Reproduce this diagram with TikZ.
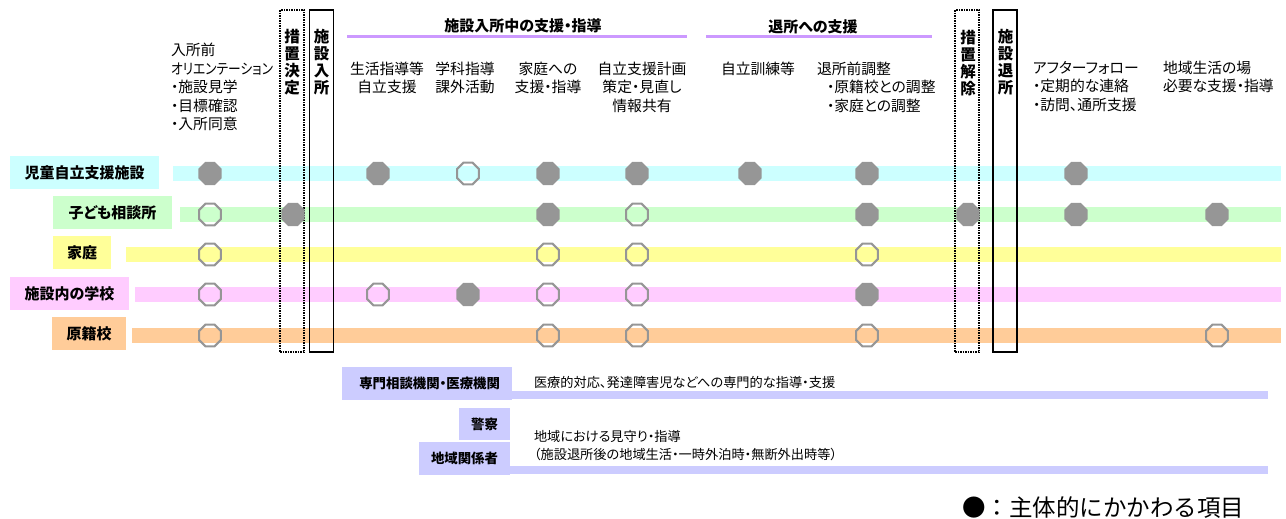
\documentclass[tikz,border=0pt]{standalone}
\usepackage{fontspec}
\setmainfont{Noto Sans CJK JP}[RawFeature=+palt]
\newfontfamily\jpfull{Noto Sans CJK JP}
\usetikzlibrary{shapes.geometric}
\definecolor{cA}{HTML}{CCFFFF}
\definecolor{cB}{HTML}{CCFFCC}
\definecolor{cC}{HTML}{FFFF99}
\definecolor{cD}{HTML}{FFCCFF}
\definecolor{cE}{HTML}{FFCC99}
\definecolor{lav}{HTML}{CCCCFF}
\definecolor{hl}{HTML}{CC99FF}
\definecolor{dgray}{HTML}{969696}
\begin{document}
\begin{tikzpicture}[x=1pt,y=-1pt,
  every node/.style={inner sep=0pt, outer sep=0pt},
  rowlabel/.style={fill=#1, minimum height=33pt, font=\fontsize{15}{17}\selectfont\bfseries},
  on/.style={regular polygon, regular polygon sides=8, minimum size=25pt, fill=dgray},
  off/.style={regular polygon, regular polygon sides=8, minimum size=23.5pt, draw=dgray, line width=2pt},
  txt/.style={font=\fontsize{14.8}{18.5}\selectfont},
  vtext/.style={font=\fontsize{15.5}{17}\selectfont\bfseries, align=center},
  vbox/.style={minimum width=24pt, minimum height=342pt, line width=1.5pt},
  hline/.style={draw=hl, line width=3pt},
  title/.style={font=\fontsize{15}{17}\selectfont\bfseries},
  orglabel/.style={fill=lav, align=right, inner xsep=12pt, font=\fontsize{13.4}{16}\selectfont\bfseries},
  btxt/.style={font=\fontsize{13.2}{18}\selectfont, align=left, anchor=west}
]
\useasboundingbox (0,0) rectangle (1286,519);

% bands
\fill[cA] (173,166) rectangle (1281,181);
\fill[cB] (180,207) rectangle (1281,222);
\fill[cC] (126,247) rectangle (1281,262);
\fill[cD] (135,287) rectangle (1281,302);
\fill[cE] (132,328) rectangle (1281,343);

% row labels
\node[rowlabel=cA, minimum width=149pt] (r1) at (84.5,172.5) {児童自立支援施設};
\node[rowlabel=cB, minimum width=119pt] (r2) at (112.5,212.5) {子ども相談所};
\node[rowlabel=cC, minimum width=58pt] (r3) at (82,252.5) {家庭};
\node[rowlabel=cD, minimum width=119pt] (r4) at (69.5,293.5) {施設内の学校};
\node[rowlabel=cE, minimum width=74pt] (r5) at (89,333.5) {原籍校};

% vertical boxes
\node[vbox, draw, densely dotted] (k1) at (292,181) {};
\node[vbox, draw] (k2) at (321.5,181) {};
\node[vbox, draw, densely dotted] (k3) at (967,181) {};
\node[vbox, draw] (k4) at (1005,181) {};
\node[vtext] (k1t) at (292,62) {措\\置\\決\\定};
\node[vtext] (k2t) at (321.5,62) {施\\設\\入\\所};
\node[vtext] (k3t) at (968,63) {措\\置\\解\\除};
\node[vtext] (k4t) at (1005.5,62) {施\\設\\退\\所};

% section titles
\node[title] (h1) at (523,26) {施設入所中の支援・指導};
\node[title] (h2) at (813,27) {退所への支援};
\draw[hline] (347,36.5) -- (687,36.5);
\draw[hline] (706,36.5) -- (932,36.5);

% column headings
\node[txt, align=left, anchor=west] (a0) at (171,87) {入所前\\\scalebox{0.86}[1]{オリエンテーション}\\・施設見学\\・目標確認\\・入所同意};
\node[txt, align=center] (a1) at (387,78) {生活指導等\\自立支援};
\node[txt, align=center] (a2) at (465,78) {学科指導\\課外活動};
\node[txt, align=center] (a3) at (548,78) {家庭への\\支援・指導};
\node[txt, align=center] (a4) at (642,87) {自立支援計画\\策定・見直し\\情報共有};
\node[txt] (a5) at (758,69) {自立訓練等};
\node[txt, align=left, anchor=west] (a6) at (817,87) {退所前調整\\\hspace*{10pt}・原籍校との調整\\\hspace*{10pt}・家庭との調整};
\node[txt, align=left, anchor=west] (a7) at (1033,86.5) {アフターフォロー\\・定期的な連絡\\・訪問、通所支援};
\node[txt, align=left, anchor=west] (a8) at (1163,77) {地域生活の場\\必要な支援・指導};

% markers
\foreach \x/\y/\t [count=\i] in {
  210/173.5/on, 378/173.5/on, 468/173.5/off, 548/173.5/on, 637/173.5/on, 750/173.5/on, 867/173.5/on, 1076/173.5/on,
  210/214.5/off, 293/214.5/on, 548/214.5/on, 637/214.5/off, 867/214.5/on, 968/214.5/on, 1076/214.5/on, 1217/214.5/on,
  210/254.5/off, 548/254.5/off, 637/254.5/off, 867/254.5/off,
  210/294.5/off, 378/294.5/off, 468/294.5/on, 548/294.5/off, 637/294.5/off, 867/294.5/on,
  210/335.5/off, 548/335.5/off, 637/335.5/off, 867/335.5/off, 1217/335.5/off}
  \node[\t] (m\i) at (\x,\y) {};

% bottom organisations
\fill[lav] (510,391) rectangle (1268,399);
\fill[lav] (508,466) rectangle (1268,474);
\node[orglabel, text width=146pt, minimum height=33pt] (o1) at (427,383.5) {専門相談機関・医療機関};
\node[orglabel, text width=27pt, minimum height=32pt] (o2) at (484.5,424) {警察};
\node[orglabel, text width=67pt, minimum height=33pt] (o3) at (464.5,458.5) {地域関係者};
\node[btxt] (t1) at (534,382) {医療的対応、発達障害児などへの専門的な指導・支援};
\node[btxt] (t2) at (534,446) {地域における見守り・指導\\（施設退所後の地域生活・一時外泊時・無断外出時等）};

% legend
\node[anchor=west, font=\jpfull\fontsize{23.5}{25}\selectfont] (lg) at (962,508) {●：主体的にかかわる項目};
\end{tikzpicture}
\end{document}
